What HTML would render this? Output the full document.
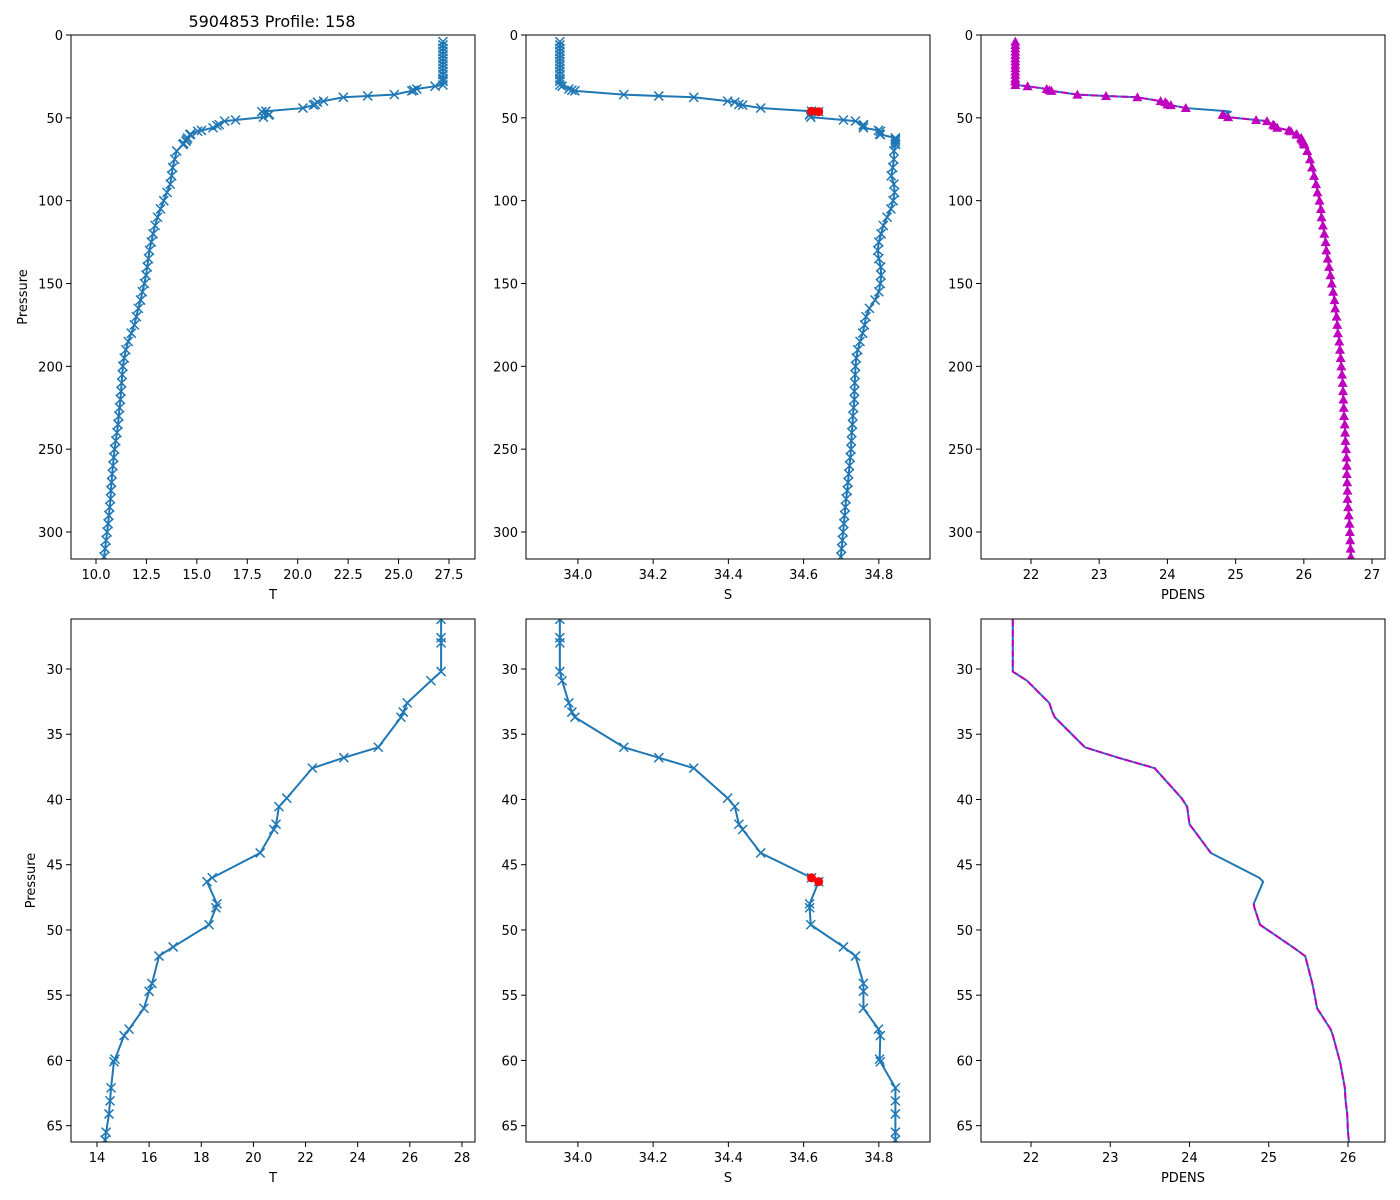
<!DOCTYPE html>
<html><head><meta charset="utf-8"><style>
html,body{margin:0;padding:0;background:#fff;width:1400px;height:1200px;overflow:hidden;}
svg{display:block;position:absolute;left:0;top:0;overflow:hidden;font-family:"DejaVu Sans","Liberation Sans",sans-serif;}
</style></head><body>
<svg id="fig" width="1400" height="1200" viewBox="0 0 1400 1200">
<rect width="1400" height="1200" fill="#fff"/>
<text x="272" y="27" font-size="16" text-anchor="middle">5904853 Profile: 158</text>
</svg>
<script>
// ---- data ----
const pressure = [4,6,8,10,12,14,16,18,20,22,24,26.2,27.6,28.0,30.2,30.9,32.6,33.3,33.7,36.0,36.8,37.6,39.9,40.55,41.9,42.3,44.1,46.0,46.3,48.0,48.3,49.6,51.3,52.0,54.1,54.7,56.0,57.6,58.1,59.9,60.1,62.1,63.1,64.1,65.5,66.1,
70,75,80,85,90,95,100,105,110,115,120,125,130,135,140,145,150,155,160,165,170,175,180,185,190,195,200,205,210,215,220,225,230,235,240,245,250,255,260,265,270,275,280,285,290,295,300,305,310,315];
const temperature = [27.2,27.2,27.2,27.2,27.2,27.2,27.2,27.2,27.2,27.2,27.2,27.2,27.2,27.2,27.2,26.81,25.90,25.75,25.66,24.79,23.47,22.26,21.28,20.98,20.87,20.78,20.26,18.42,18.22,18.6,18.56,18.30,16.92,16.38,16.11,16.0,15.8,15.23,15.04,14.69,14.65,14.54,14.5,14.46,14.35,14.31,
14.0,13.9,13.8,13.75,13.68,13.52,13.36,13.2,13.05,12.93,12.83,12.74,12.65,12.6,12.54,12.48,12.4,12.3,12.21,12.1,12.0,11.9,11.75,11.6,11.48,11.4,11.33,11.3,11.27,11.24,11.21,11.17,11.13,11.09,11.04,10.98,10.92,10.88,10.84,10.8,10.77,10.74,10.72,10.68,10.64,10.6,10.55,10.5,10.45,10.4];
const salinity = [33.952,33.952,33.952,33.952,33.952,33.952,33.952,33.952,33.952,33.952,33.952,33.952,33.952,33.952,33.952,33.958,33.976,33.984,33.992,34.122,34.215,34.308,34.398,34.417,34.428,34.438,34.486,34.621,34.640,34.616,34.616,34.619,34.706,34.738,34.759,34.759,34.759,34.799,34.804,34.802,34.804,34.844,34.844,34.844,34.844,34.844,
34.84,34.84,34.837,34.833,34.84,34.842,34.838,34.832,34.822,34.812,34.806,34.8,34.797,34.8,34.805,34.806,34.804,34.8,34.79,34.775,34.766,34.762,34.757,34.75,34.744,34.74,34.738,34.737,34.736,34.735,34.735,34.733,34.731,34.73,34.728,34.727,34.726,34.724,34.722,34.72,34.718,34.716,34.713,34.711,34.709,34.707,34.705,34.703,34.701,34.699];
const pdens = [21.77,21.77,21.77,21.77,21.77,21.77,21.77,21.77,21.77,21.77,21.77,21.77,21.77,21.77,21.77,21.95,22.23,22.27,22.30,22.68,23.1,23.56,23.9,23.97,24.0,24.05,24.27,24.88,24.93,24.81,24.82,24.89,25.3,25.46,25.55,25.57,25.61,25.78,25.81,25.89,25.9,25.96,25.97,25.99,26.0,26.01,
26.05,26.09,26.12,26.15,26.18,26.2,26.23,26.25,26.26,26.28,26.3,26.32,26.33,26.35,26.37,26.39,26.41,26.43,26.45,26.46,26.48,26.49,26.5,26.52,26.53,26.54,26.55,26.56,26.57,26.575,26.58,26.585,26.59,26.6,26.605,26.61,26.62,26.625,26.63,26.63,26.635,26.64,26.64,26.65,26.66,26.67,26.675,26.68,26.685,26.69];
const flaggedIdx = [27,28];
const tTicksTop = ["10.0","12.5","15.0","17.5","20.0","22.5","25.0","27.5"];
const tTicksBottom = ["14","16","18","20","22","24","26","28"];
const sTicks = ["34.0","34.2","34.4","34.6","34.8"];
const pdTicksTop = ["22","23","24","25","26","27"];
const pdTicksBottom = ["22","23","24","25","26"];
const pTicksTop = ["0","50","100","150","200","250","300"];
const pTicksBottom = ["30","35","40","45","50","55","60","65"];

const NS="http://www.w3.org/2000/svg";
const svg=document.getElementById('fig');
function mk(tag,attrs,parent){const e=document.createElementNS(NS,tag);for(const k in attrs)e.setAttribute(k,attrs[k]);(parent||svg).appendChild(e);return e;}
const BLUE="#1f77b4", MAG="#bf00bf";
let clipN=0;

function panel(o){
  const g=mk('g',{});
  
  
  const xs=v=>o.x0+(v-o.xmin)/(o.xmax-o.xmin)*(o.x1-o.x0);
  const ys=v=>o.y0+(v-o.ymin)/(o.ymax-o.ymin)*(o.y1-o.y0);
  const cid='clip'+(clipN++);
  const cp=mk('clipPath',{id:cid},g);
  mk('rect',{x:o.x0,y:o.y0,width:o.x1-o.x0,height:o.y1-o.y0},cp);
  const plot=mk('g',{'clip-path':'url(#'+cid+')'},g);
  const xv=o.xv;
  let d='';
  pressure.forEach((p,i)=>{d+=(i?'L':'M')+xs(xv[i]).toFixed(2)+' '+ys(p).toFixed(2);});
  const ln=mk('path',{d:d,fill:'none',stroke:BLUE,'stroke-width':2,'stroke-linejoin':'round'},plot);
  
  
  if(o.markX){
    pressure.forEach((p,i)=>{
      const cx=xs(xv[i]),cy=ys(p),r=4.5;
      const m=mk('path',{d:`M${cx-r} ${cy-r}L${cx+r} ${cy+r}M${cx-r} ${cy+r}L${cx+r} ${cy-r}`,stroke:BLUE,'stroke-width':1.5,fill:'none'},plot);
      
      
    });
  }
  if(o.flags){
    flaggedIdx.forEach(i=>{
      const c=mk('circle',{cx:xs(xv[i]),cy:ys(pressure[i]),r:4.5,fill:'#ff0000'},plot);
      
      
    });
  }
  if(o.magenta){
    let dm='',pen=false;
    pressure.forEach((p,i)=>{
      if(flaggedIdx.includes(i)){pen=false;return;}
      dm+=(pen?'L':'M')+xs(xv[i]).toFixed(2)+' '+ys(p).toFixed(2);pen=true;
    });
    const ml=mk('path',{d:dm,fill:'none',stroke:MAG,'stroke-width':2,'stroke-dasharray':'7,3'},plot);
    
    
    if(o.tri){
      pressure.forEach((p,i)=>{
        if(flaggedIdx.includes(i))return;
        const cx=xs(xv[i]),cy=ys(p),r=5;
        const t=mk('path',{d:`M${cx} ${cy-r}L${cx+r} ${cy+r*0.8}L${cx-r} ${cy+r*0.8}Z`,fill:MAG},plot);
        
        
      });
    }
  }
  const fr=mk('rect',{x:o.x0,y:o.y0,width:o.x1-o.x0,height:o.y1-o.y0,fill:'none',stroke:'#000','stroke-width':1},g);
  
  
  o.xt.forEach(t=>{
    const x=xs(parseFloat(t));
    mk('line',{x1:x,y1:o.y1,x2:x,y2:o.y1+5,stroke:'#000','stroke-width':1},g);
    const tx=mk('text',{x:x,y:o.y1+20,'font-size':13,'text-anchor':'middle'},g);
    tx.textContent=t;
    
    
  });
  o.yt.forEach(t=>{
    const y=ys(parseFloat(t));
    mk('line',{x1:o.x0-5,y1:y,x2:o.x0,y2:y,stroke:'#000','stroke-width':1},g);
    const tx=mk('text',{x:o.x0-8,y:y+5,'font-size':13,'text-anchor':'end'},g);
    tx.textContent=t;
    
    
  });
  const xl=mk('text',{x:(o.x0+o.x1)/2,y:o.y1+40,'font-size':13,'text-anchor':'middle'},g);
  xl.textContent=o.xlabel;
  
  
  if(o.ylabelX){
    const yl=mk('text',{x:0,y:0,'font-size':13,'text-anchor':'middle',transform:`translate(${o.ylabelX},${(o.y0+o.y1)/2}) rotate(-90)`},g);
    yl.textContent='Pressure';
    
    
  }
}
const TOP={y0:35,y1:559,ymin:0,ymax:316.3}, BOT={y0:619,y1:1142,ymin:26.17,ymax:66.25};
panel(Object.assign({name:'temperature-profile-full',series:'temperature',x0:71,x1:475,xmin:8.76,xmax:28.79,xv:temperature,markX:true,xt:tTicksTop,yt:pTicksTop,xlabel:'T',ylabelX:27},TOP));
panel(Object.assign({name:'salinity-profile-full',series:'salinity',x0:526,x1:930,xmin:33.862,xmax:34.936,xv:salinity,markX:true,flags:true,xt:sTicks,yt:pTicksTop,xlabel:'S'},TOP));
panel(Object.assign({name:'pdens-profile-full',series:'pdens',x0:981,x1:1385,xmin:21.267,xmax:27.19,xv:pdens,magenta:true,tri:true,xt:pdTicksTop,yt:pTicksTop,xlabel:'PDENS'},TOP));
panel(Object.assign({name:'temperature-profile-zoom',series:'temperature',x0:71,x1:475,xmin:13.003,xmax:28.5,xv:temperature,markX:true,xt:tTicksBottom,yt:pTicksBottom,xlabel:'T',ylabelX:35},BOT));
panel(Object.assign({name:'salinity-profile-zoom',series:'salinity',x0:526,x1:930,xmin:33.862,xmax:34.936,xv:salinity,markX:true,flags:true,xt:sTicks,yt:pTicksBottom,xlabel:'S'},BOT));
panel(Object.assign({name:'pdens-profile-zoom',series:'pdens',x0:981,x1:1385,xmin:21.369,xmax:26.467,xv:pdens,magenta:true,tri:false,xt:pdTicksBottom,yt:pTicksBottom,xlabel:'PDENS'},BOT));
</script>
</body></html>
